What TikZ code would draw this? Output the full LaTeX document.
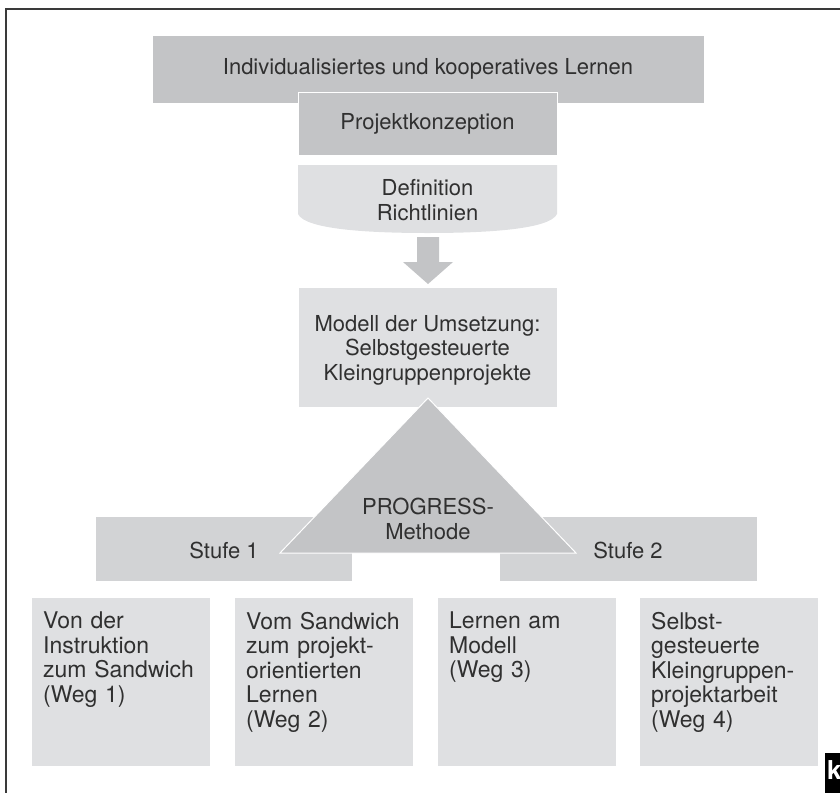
\documentclass[tikz,border=0pt]{standalone}
\usepackage{fontspec}
\setmainfont{TeX Gyre Heros}
\usetikzlibrary{calc}
\definecolor{midgray}{HTML}{C3C4C6}
\definecolor{palegray}{HTML}{DFE0E2}
\definecolor{stufegray}{HTML}{D2D3D5}
\definecolor{txt}{HTML}{303030}
\definecolor{framegray}{HTML}{3A3A3A}
\begin{document}
\begin{tikzpicture}[x=1pt,y=-1pt,
  box/.style={inner sep=0pt, outer sep=0pt, draw=white, line width=0.8pt, text=txt,
    font=\fontsize{22}{24.5}\selectfont, align=center},
  lbl/.style={inner sep=0pt, text=txt, font=\fontsize{22}{24.5}\selectfont, align=center},
  btxt/.style={inner sep=0pt, text=txt, font=\fontsize{23}{24.5}\selectfont, align=left,
    text width=165pt, anchor=north west},
  lowbox/.style={box, fill=palegray, minimum width=179pt, minimum height=169pt}]
\useasboundingbox (0,0) rectangle (840,793);
% frame
\draw[framegray, line width=2pt] (840,9) -- (6,9) -- (6,793);
% top boxes
\node[box, fill=midgray, minimum width=552pt, minimum height=68pt] (top) at (428,69)
  {Individualisiertes und kooperatives Lernen};
\node[box, fill=midgray, minimum width=259pt, minimum height=63pt] (konz) at (427.5,123.5)
  {Projektkonzeption};
% definition shape
\fill[palegray] (298,165) -- (557,165) -- (557,214)
  .. controls (550,229) and (490,233) .. (427.5,233)
  .. controls (365,233) and (305,229) .. (298,214) -- cycle;
\node[lbl] (def) at (427.5,200) {Definition\\Richtlinien};
% arrow
\fill[midgray] (417,237) -- (439,237) -- (439,262) -- (453,262) -- (428,284)
  -- (403,262) -- (417,262) -- cycle;
% model box
\node[box, fill=palegray, minimum width=259pt, minimum height=120pt] (modell) at (427.5,347) {};
\node[lbl] (modtxt) at (427.5,350) {Modell der Umsetzung:\\Selbstgesteuerte\\Kleingruppenprojekte};
% stufe boxes
\node[box, fill=stufegray, minimum width=257pt, minimum height=65pt] (s1) at (223.5,548.5) {};
\node[box, fill=stufegray, minimum width=258pt, minimum height=65pt] (s2) at (628,548.5) {};
\node[lbl] (s1t) at (224,550) {Stufe 1};
\node[lbl] (s2t) at (628,550) {Stufe 2};
% triangle
\draw[white, line width=1pt, fill=midgray] (428,398) -- (576,553) -- (280,553) -- cycle;
\node[lbl] (prog) at (428,519) {PROGRESS-\\Methode};
% bottom boxes
\node[lowbox] (b1) at (120.5,681.5) {};
\node[lowbox] (b2) at (323.5,681.5) {};
\node[lowbox] (b3) at (526.5,681.5) {};
\node[lowbox] (b4) at (728.5,681.5) {};
\node[btxt] (t1) at ([shift={(12,15)}]b1.north west) {Von der\\Instruktion\\zum Sandwich\\(Weg 1)};
\node[btxt] (t2) at ([shift={(12,15)}]b2.north west) {Vom Sandwich\\zum projekt-\\orientierten\\Lernen\\(Weg 2)};
\node[btxt] (t3) at ([shift={(12,15)}]b3.north west) {Lernen am\\Modell\\(Weg 3)};
\node[btxt] (t4) at ([shift={(12,15)}]b4.north west) {Selbst-\\gesteuerte\\Kleingruppen-\\projektarbeit\\(Weg 4)};
% corner mark
\fill[black] (825,753) rectangle (840,793);
\begin{scope}
\clip (825,753) rectangle (840,793);
\node[inner sep=0pt, anchor=base west, text=white, font=\bfseries\fontsize{26}{26}\selectfont] (kmark) at (827,779) {k};
\end{scope}
\end{tikzpicture}
\end{document}
